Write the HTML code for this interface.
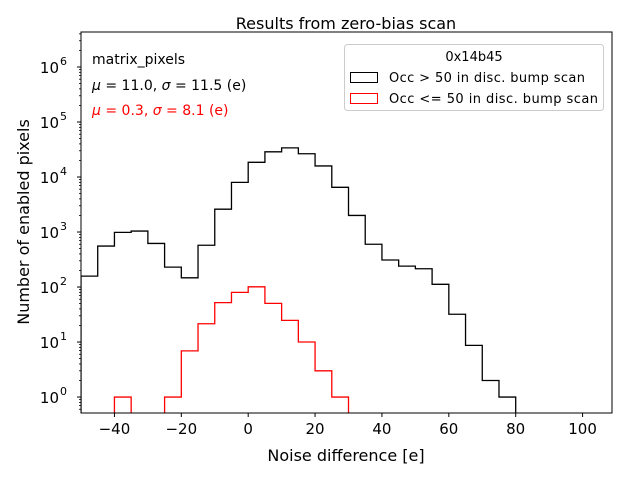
<!DOCTYPE html>
<html><head><meta charset="utf-8"><style>
body{margin:0;background:#fff}
svg{font-family:"DejaVu Sans","Liberation Sans",sans-serif}
</style></head><body>
<svg id="c" width="640" height="480" viewBox="0 0 640 480" xmlns="http://www.w3.org/2000/svg">
<rect width="640" height="480" fill="#fff"/>
<defs><clipPath id="pc"><rect x="81" y="32" width="531" height="381"/></clipPath></defs>
<text x="346" y="29" font-size="16" text-anchor="middle">Results from zero-bias scan</text>
<g id="series" clip-path="url(#pc)"></g>
<g id="axes"></g>
<rect x="81" y="32" width="531" height="381" fill="none" stroke="#000" stroke-width="1"/>
<text x="92" y="64" font-size="14">matrix_pixels</text>
<text x="92" y="90" font-size="14"><tspan font-style="italic">μ</tspan> = 11.0, <tspan font-style="italic">σ</tspan> = 11.5 (e)</text>
<text x="92" y="115" font-size="14" fill="#ff0000"><tspan font-style="italic">μ</tspan> = 0.3, <tspan font-style="italic">σ</tspan> = 8.1 (e)</text>
<g>
<rect x="344.5" y="44.5" width="259" height="66" rx="3" fill="#fff" stroke="#ccc"/>
<text x="474" y="61" font-size="13" text-anchor="middle">0x14b45</text>
<rect x="350.5" y="72.5" width="27" height="10" fill="none" stroke="#000"/>
<text x="389" y="82" font-size="13" textLength="196">Occ &gt; 50 in disc. bump scan</text>
<rect x="350.5" y="93.5" width="27" height="10" fill="none" stroke="#ff0000"/>
<text x="389" y="103" font-size="13" textLength="209">Occ &lt;= 50 in disc. bump scan</text>
</g>
<text x="346" y="461" font-size="16" text-anchor="middle">Noise difference [e]</text>
<text transform="translate(29,222) rotate(-90)" font-size="16" text-anchor="middle">Number of enabled pixels</text>
</svg>
<script>
const binEdgesStart = -50;
const binWidth = 5;
const blackCounts = [158,556,985,1040,620,230,147,575,2600,8000,18500,28700,33800,26500,15900,6500,2000,600,310,240,215,112,32,8.7,2,1];
const redCounts = [0,0,1,0,0,1,6.9,21.5,52,80,101,50.5,24.8,10,3,1];
const xTicks = [-40,-20,0,20,40,60,80,100];
const yTickExps = [0,1,2,3,4,5,6];

const L=81,R=612,T=32,B=413;
const xMin=-50,xMax=108.8;
const logMin=-0.29,logMax=6.636;
const NS="http://www.w3.org/2000/svg";
function X(v){return L+(v-xMin)/(xMax-xMin)*(R-L);}
function Y(v){if(v<=0)return B+20;return B-(Math.log10(v)-logMin)/(logMax-logMin)*(B-T);}
function mk(tag,attrs,parent){const e=document.createElementNS(NS,tag);for(const k in attrs)e.setAttribute(k,attrs[k]);parent.appendChild(e);return e;}
const series=document.getElementById('series');
const axes=document.getElementById('axes');
function hist(counts,color,name){
  let d="M"+X(binEdgesStart)+","+(B+20);
  counts.forEach((c,i)=>{const x0=X(binEdgesStart+i*binWidth),x1=X(binEdgesStart+(i+1)*binWidth),y=Y(c);d+=" L"+x0+","+y+" L"+x1+","+y;});
  d+=" L"+X(binEdgesStart+counts.length*binWidth)+","+(B+20);
  const p=mk('path',{d:d,fill:'none',stroke:color,'stroke-width':1.3},series);
  
  
}
hist(blackCounts,'#000','histogram-occ-gt-50');
hist(redCounts,'#ff0000','histogram-occ-le-50');
xTicks.forEach(t=>{
  const x=X(t);
  mk('line',{x1:x,x2:x,y1:B,y2:B+4,stroke:'#000'},axes);
  const tx=mk('text',{x:x,y:B+21,'font-size':15,'text-anchor':'middle'},axes);
  tx.textContent=(t<0?'\u2212'+(-t):String(t));
  
  
});
yTickExps.forEach(e=>{
  const y=Y(Math.pow(10,e));
  mk('line',{x1:L-4,x2:L,y1:y,y2:y,stroke:'#000'},axes);
  const tx=mk('text',{x:L-22,y:y+6,'font-size':15,'text-anchor':'end'},axes);
  tx.textContent='10';
  
  
  const sp=mk('text',{x:L-21,y:y-2,'font-size':11},axes);
  sp.textContent=String(e);
  
  
});
for(let e=-1;e<=6;e++){for(let m=2;m<=9;m++){const v=m*Math.pow(10,e);const y=Y(v);if(y<T||y>B)continue;mk('line',{x1:L-2,x2:L,y1:y,y2:y,stroke:'#000','stroke-width':0.8},axes);}}
</script>
</body></html>
